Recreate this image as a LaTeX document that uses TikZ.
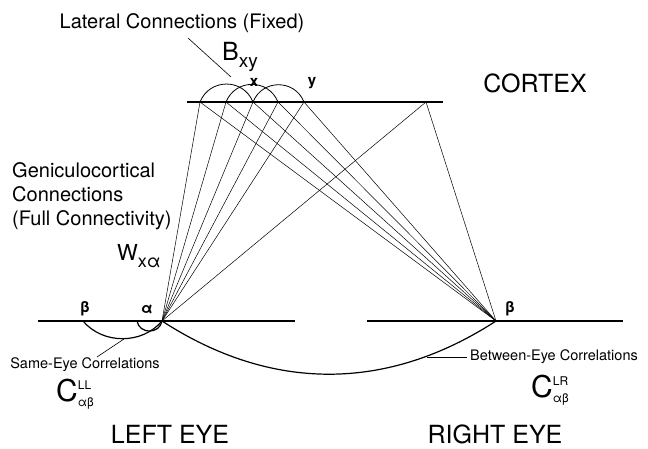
\documentclass[tikz,border=0pt]{standalone}
\usepackage{fontspec}
\setmainfont{TeX Gyre Heros}
\usepackage{tikz}
\usetikzlibrary{positioning,calc}

\begin{document}
\begin{tikzpicture}[
    x=1pt, y=-1pt,
    sheet/.style={line width=1.8pt},
    wire/.style={line width=0.5pt},
    lat/.style={line width=0.8pt},
    corr/.style={line width=1.2pt},
    ptr/.style={line width=0.6pt},
    big/.style={font=\fontsize{25}{28}\selectfont, inner sep=0pt},
    lbl/.style={font=\fontsize{20}{24}\selectfont, inner sep=0pt},
    slbl/.style={font=\fontsize{14.5}{16}\selectfont, inner sep=0pt},
    pt/.style={font=\fontsize{15}{16}\selectfont\bfseries, inner sep=0pt},
  ]
  \useasboundingbox (0,0) rectangle (648,448);

  % cortex sheet and its points
  \coordinate (cl) at (187,102);
  \coordinate (cr) at (443,102);
  \coordinate (c1) at (200,102);
  \coordinate (c2) at (226,102);
  \coordinate (c3) at (253,102);
  \coordinate (c4) at (278,102);
  \coordinate (c5) at (304,102);
  \coordinate (c6) at (426,102);
  \draw[sheet] (cl) -- (cr);

  % left and right eye sheets
  \coordinate (ll) at (38,321);
  \coordinate (lr) at (295,321);
  \coordinate (rl) at (367,321);
  \coordinate (rr) at (623,321);
  \coordinate (lb) at (83,321);
  \coordinate (ls) at (137,321);
  \coordinate (la) at (162,321);
  \coordinate (rb) at (496,321);
  \draw[sheet] (ll) -- (lr);
  \draw[sheet] (rl) -- (rr);

  % geniculocortical connections
  \foreach \c in {c1,c2,c3,c4,c5,c6} {
    \draw[wire] (\c) -- (la);
    \draw[wire] (\c) -- (rb);
  }

  % lateral connections
  \draw[lat] (c1) to[bend left=68, looseness=1.25] (c3);
  \draw[lat] (c2) to[bend left=68, looseness=1.25] (c4);
  \draw[lat] (c3) to[bend left=68, looseness=1.25] (c5);

  % correlations
  \draw[corr] (lb) to[bend right=50] (la);
  \draw[corr] (ls) to[bend right=80, looseness=1.4] (la);
  \draw[corr] (la) to[bend right=33] (rb);

  % labels
  \node[lbl] (lattxt) at (182,23) {Lateral Connections (Fixed)};
  \coordinate (latp1) at (188,38);
  \coordinate (latp2) at (231,77);
  \draw[ptr] (latp1) -- (latp2);
  \node[inner sep=0pt, anchor=west] (bxy) at (222,57)
    {\fontsize{25}{25}\selectfont B\raisebox{-7pt}{\fontsize{19}{19}\selectfont xy}};
  \node[pt] (xl) at (254,82) {x};
  \node[pt] (yl) at (312,83) {y};
  \node[big] (cortex) at (535,83) {CORTEX};

  \node[lbl, align=left, anchor=west] (gen) at (12,196)
    {Geniculocortical\\Connections\\(Full Connectivity)};
  \node[inner sep=0pt, anchor=west] (wxa) at (117,256)
    {\fontsize{22}{22}\selectfont W\raisebox{-7pt}{\fontsize{18}{18}\selectfont xα}};

  \node[pt] (lbt) at (85,309) {β};
  \node[pt] (lat) at (147,309) {α};
  \node[pt] (rbt) at (510,309) {β};

  \node[slbl] (same) at (85,365) {Same-Eye Correlations};
  \coordinate (samep1) at (97,357);
  \coordinate (samep2) at (124,339);
  \draw[ptr] (samep1) -- (samep2);
  \node[inner sep=0pt, anchor=west] (cll) at (56,395)
    {\fontsize{30}{30}\selectfont C\raisebox{3pt}{\fontsize{12}{13}\selectfont
      \begin{tabular}{@{}l@{}}LL\\[4pt]αβ\end{tabular}}};

  \node[slbl, anchor=west] (betw) at (470,357) {Between-Eye Correlations};
  \coordinate (betp1) at (427,357);
  \coordinate (betp2) at (467,357);
  \draw[ptr] (betp1) -- (betp2);
  \node[inner sep=0pt, anchor=west] (clr) at (531,391)
    {\fontsize{30}{30}\selectfont C\raisebox{3pt}{\fontsize{12}{13}\selectfont
      \begin{tabular}{@{}l@{}}LR\\[4pt]αβ\end{tabular}}};

  \node[big] (leye) at (170,434) {LEFT EYE};
  \node[big] (reye) at (495,434) {RIGHT EYE};
\end{tikzpicture}
\end{document}
